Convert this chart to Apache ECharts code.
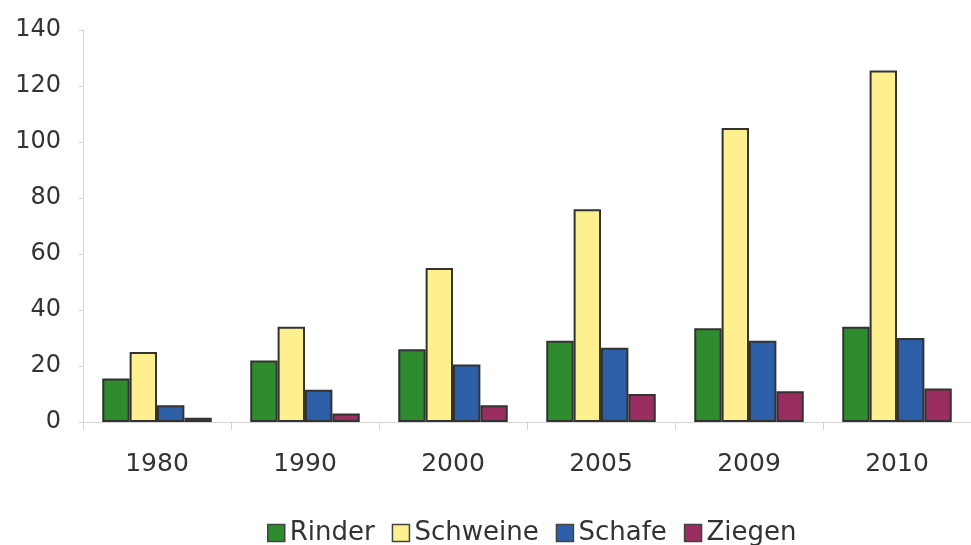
<!DOCTYPE html>
<html>
<head>
<meta charset="utf-8">
<script src="https://cdn.jsdelivr.net/npm/echarts@6/dist/echarts.min.js"></script>
<style>html,body{margin:0;padding:0;background:#fff}#c{width:971px;height:545px}</style>
</head>
<body>
<div id="c"></div>
<script>
var categories = ['1980', '1990', '2000', '2005', '2009', '2010'];
var seriesNames = ['Rinder', 'Schweine', 'Schafe', 'Ziegen'];
var rinder = [15.5, 22, 26, 29, 33.5, 34];
var schweine = [25, 34, 55, 76, 105, 125.5];
var schafe = [6, 11.5, 20.5, 26.5, 29, 30];
var ziegen = [1.5, 3, 6, 10, 11, 12];
var yTicks = [0, 20, 40, 60, 80, 100, 120, 140];
var colors = ['#2e8b2e', '#fff08f', '#2d5fa8', '#9a2d5f'];

var values = [rinder, schweine, schafe, ziegen];
var chart = echarts.init(document.getElementById('c'), null, {renderer: 'canvas'});
var font = 'DejaVu Sans, sans-serif';
chart.setOption({
  animation: false,
  backgroundColor: '#ffffff',
  color: colors,
  grid: {left: 83, top: 30, width: 892, height: 392, containLabel: false},
  legend: {
    top: 515, left: 262,
    itemWidth: 17, itemHeight: 17, itemGap: 17,
    icon: 'rect',
    textStyle: {fontFamily: font, fontSize: 26, color: '#333'},
    data: seriesNames.map(function (n, i) {
      return {name: n, itemStyle: {borderColor: '#444', borderWidth: 1.5}};
    })
  },
  xAxis: {
    type: 'category', data: categories,
    axisLine: {lineStyle: {color: '#d4d4d4', width: 1}},
    axisTick: {show: true, alignWithLabel: false, length: 8, lineStyle: {color: '#d4d4d4'}},
    axisLabel: {fontFamily: font, fontSize: 25, color: '#333', margin: 30}
  },
  yAxis: {
    type: 'value', min: yTicks[0], max: yTicks[yTicks.length - 1], interval: 20,
    axisLine: {show: true, lineStyle: {color: '#d4d4d4', width: 1}},
    axisTick: {show: true, length: 4, lineStyle: {color: '#d4d4d4'}},
    splitLine: {show: false},
    axisLabel: {fontFamily: font, fontSize: 24, color: '#333', margin: 22}
  },
  series: seriesNames.map(function (n, i) {
    return {
      name: n, type: 'bar', data: values[i],
      barGap: '0%', barCategoryGap: '26%',
      itemStyle: {color: colors[i], borderColor: '#333', borderWidth: 2}
    };
  })
});
</script>
</body>
</html>
